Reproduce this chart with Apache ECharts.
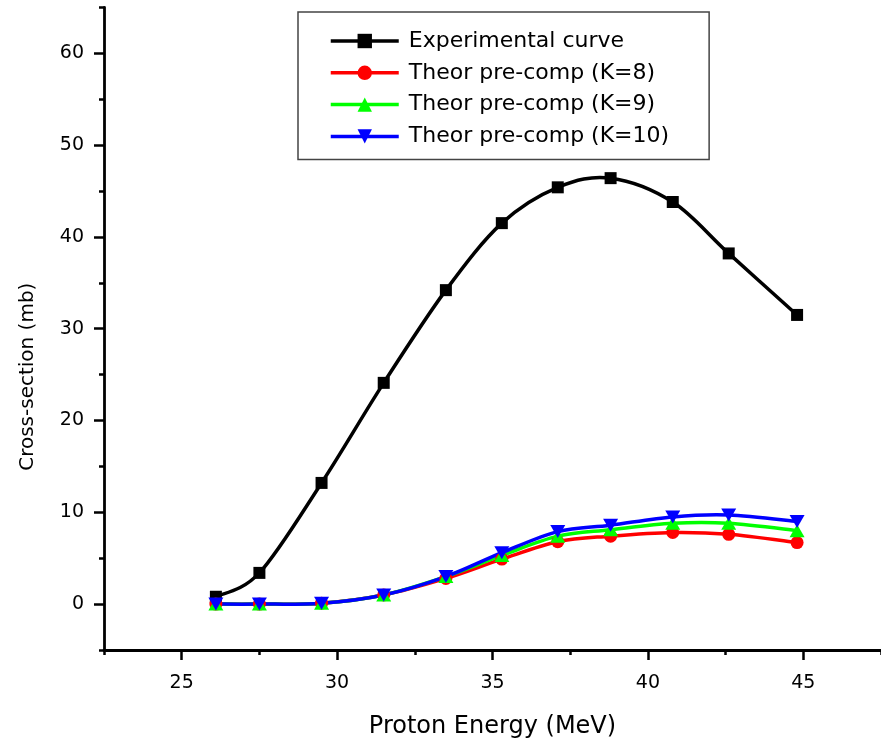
<!DOCTYPE html>
<html><head><meta charset="utf-8">
<script src="https://cdn.jsdelivr.net/npm/echarts/dist/echarts.min.js"></script>
<style>html,body{margin:0;padding:0;background:#fff}#c{width:881px;height:746px}</style>
</head><body><div id="c"></div>
<script>
const energy = [26.1, 27.5, 29.5, 31.5, 33.5, 35.3, 37.1, 38.8, 40.8, 42.6, 44.8];
const experimental = [0.8, 3.4, 13.2, 24.1, 34.2, 41.5, 45.4, 46.4, 43.8, 38.2, 31.5];
const theorK8 = [0.0, 0.0, 0.1, 1.0, 2.8, 4.9, 6.8, 7.4, 7.8, 7.6, 6.7];
const theorK9 = [0.0, 0.0, 0.1, 1.0, 3.0, 5.3, 7.4, 8.1, 8.8, 8.8, 8.0];
const theorK10 = [0.0, 0.0, 0.1, 1.0, 3.0, 5.6, 7.9, 8.6, 9.5, 9.7, 9.0];
const xTickLabels = [25, 30, 35, 40, 45];
const xMinorTicks = [22.5, 27.5, 32.5, 37.5, 42.5, 47.5];
const yTickLabels = [0, 10, 20, 30, 40, 50, 60];
const yMinorTicks = [-5, 5, 15, 25, 35, 45, 55, 65];
const seriesNames = ['Experimental curve', 'Theor pre-comp (K=8)', 'Theor pre-comp (K=9)', 'Theor pre-comp (K=10)'];
const xTitle = 'Proton Energy (MeV)';
const yTitle = 'Cross-section (mb)';

const FONT = 'DejaVu Sans';
const pairs = ys => energy.map((x, i) => [x, ys[i]]);
const downTri = 'path://M0,0 L20,0 L10,17 Z';
const LW = 3.5;

// markers (and legend entries) through a line series
function markerSeries(name, ys, color, symbol, size) {
  return {
    name, type: 'line', data: pairs(ys), z: 3,
    symbol, symbolSize: size, symbolKeepAspect: false,
    lineStyle: {color, width: LW, opacity: 0},
    itemStyle: {color, borderWidth: 0},
    emphasis: {disabled: true}
  };
}
// smooth spline curve drawn through the same data via the axes' coordinate mapping
function curveSeries(ys, color) {
  return {
    type: 'custom', data: pairs(ys), z: 2, silent: true,
    encode: {x: 0, y: 1},
    renderItem: (params, api) => {
      if (params.dataIndex !== 0) return null;
      const p = ys.map((y, i) => api.coord([energy[i], y]));
      const n = p.length, children = [];
      for (let i = 0; i < n - 1; i++) {
        const p0 = p[Math.max(i - 1, 0)], p1 = p[i], p2 = p[i + 1], p3 = p[Math.min(i + 2, n - 1)];
        children.push({
          type: 'bezierCurve',
          shape: {
            x1: p1[0], y1: p1[1], x2: p2[0], y2: p2[1],
            cpx1: p1[0] + (p2[0] - p0[0]) / 6, cpy1: p1[1] + (p2[1] - p0[1]) / 6,
            cpx2: p2[0] - (p3[0] - p1[0]) / 6, cpy2: p2[1] - (p3[1] - p1[1]) / 6
          },
          style: {stroke: color, lineWidth: LW, fill: null}
        });
      }
      return {type: 'group', children};
    }
  };
}

const colors = ['#000000', '#ff0000', '#00ff00', '#0000ff'];
const chart = echarts.init(document.getElementById('c'));
chart.setOption({
  animation: false,
  backgroundColor: '#fff',
  grid: {left: 104, right: -8.5, top: 7.4, bottom: 96, containLabel: false},
  legend: {
    orient: 'vertical', left: 298, top: 12,
    data: seriesNames,
    itemWidth: 68, itemHeight: 18, itemGap: 9.8,
    borderColor: '#444', borderWidth: 1.5,
    padding: [18, 40, 12, 31],
    lineStyle: {opacity: 1, width: LW},
    textStyle: {fontFamily: FONT, fontSize: 22, color: '#000', lineHeight: 22, padding: [0, 0, 0, 5]},
    selectedMode: false
  },
  xAxis: [{
    type: 'value', min: 22.5, max: 47.5, position: 'bottom',
    axisLine: {show: true, onZero: false, lineStyle: {color: '#000', width: 2.8}},
    axisTick: {show: true, customValues: xTickLabels, length: 10, lineStyle: {color: '#000', width: 2.5}},
    axisLabel: {customValues: xTickLabels, fontFamily: FONT, fontSize: 19, color: '#000', margin: 24},
    splitLine: {show: false},
    name: xTitle, nameLocation: 'middle', nameGap: 65,
    nameTextStyle: {fontFamily: FONT, fontSize: 24, color: '#000'}
  }, {
    type: 'value', min: 22.5, max: 47.5, position: 'bottom',
    axisLine: {show: false, onZero: false},
    axisTick: {show: true, customValues: xMinorTicks, length: 5, lineStyle: {color: '#000', width: 2.5}},
    axisLabel: {show: false, customValues: xMinorTicks},
    splitLine: {show: false}
  }],
  yAxis: [{
    type: 'value', min: -5, max: 65, position: 'left',
    axisLine: {show: true, onZero: false, lineStyle: {color: '#000', width: 2.8}},
    axisTick: {show: true, customValues: yTickLabels, length: 10, lineStyle: {color: '#000', width: 2.5}},
    axisLabel: {customValues: yTickLabels, fontFamily: FONT, fontSize: 19, color: '#000', margin: 20},
    splitLine: {show: false},
    name: yTitle, nameLocation: 'middle', nameGap: 66,
    nameTextStyle: {fontFamily: FONT, fontSize: 20, color: '#000', padding: [0, 96, 0, 0]}
  }, {
    type: 'value', min: -5, max: 65, position: 'left',
    axisLine: {show: false, onZero: false},
    axisTick: {show: true, customValues: yMinorTicks, length: 5, lineStyle: {color: '#000', width: 2.5}},
    axisLabel: {show: false, customValues: yMinorTicks},
    splitLine: {show: false}
  }],
  series: [
    curveSeries(experimental, colors[0]),
    curveSeries(theorK8, colors[1]),
    curveSeries(theorK9, colors[2]),
    curveSeries(theorK10, colors[3]),
    markerSeries(seriesNames[0], experimental, colors[0], 'rect', 12),
    markerSeries(seriesNames[1], theorK8, colors[1], 'circle', 13),
    markerSeries(seriesNames[2], theorK9, colors[2], 'triangle', [15, 13]),
    markerSeries(seriesNames[3], theorK10, colors[3], downTri, [15, 13])
  ]
});
</script>
</body></html>
